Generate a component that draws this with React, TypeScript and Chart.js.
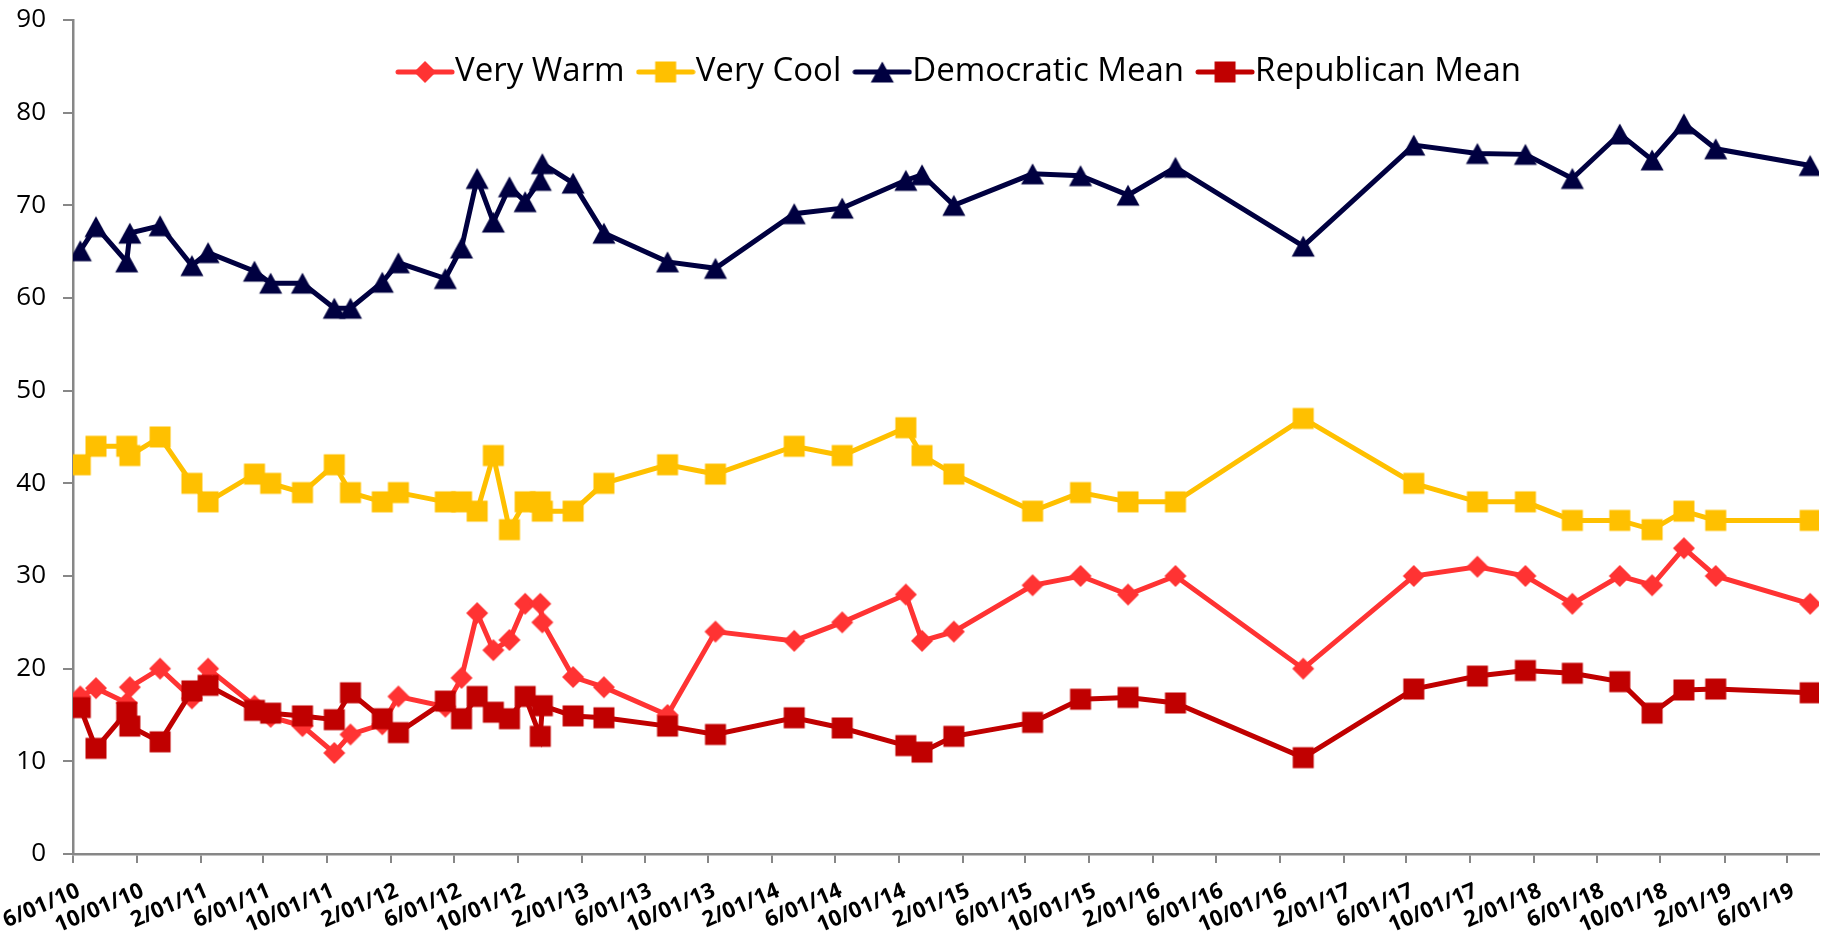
import React, { useEffect, useRef } from 'react';
import { Chart, registerables } from 'chart.js';

Chart.register(...registerables);

// Survey dates (two surveys fall in Sep 2010 and in Nov 2012)
const surveyDates = [
  '2010-06-15', '2010-07-15', '2010-09-12', '2010-09-18', '2010-11-15',
  '2011-01-15', '2011-02-15', '2011-05-15', '2011-06-15', '2011-08-15',
  '2011-10-15', '2011-11-15', '2012-01-15', '2012-02-15', '2012-05-15',
  '2012-06-15', '2012-07-15', '2012-08-15', '2012-09-15', '2012-10-15',
  '2012-11-13', '2012-11-17', '2013-01-15', '2013-03-15', '2013-07-15',
  '2013-10-15', '2014-03-15', '2014-06-15', '2014-10-15', '2014-11-15',
  '2015-01-15', '2015-06-15', '2015-09-15', '2015-12-15', '2016-03-15',
  '2016-11-15', '2017-06-15', '2017-10-15', '2018-01-15', '2018-04-15',
  '2018-07-15', '2018-09-15', '2018-11-15', '2019-01-15', '2019-07-15',
];

const veryWarm = [
  17.0, 17.9, 16.3, 18.0, 20.0,
  16.8, 20.0, 16.0, 14.8, 13.8,
  10.9, 12.9, 14.0, 17.0, 15.9,
  19.0, 26.0, 22.0, 23.1, 27.0,
  27.0, 25.0, 19.1, 18.0, 15.0,
  24.0, 23.0, 25.0, 28.0, 23.0,
  24.0, 29.0, 30.0, 28.0, 30.0,
  20.0, 30.0, 31.0, 30.0, 27.0,
  30.0, 29.0, 33.0, 30.0, 27.0,
];

const veryCool = [
  42, 44, 44, 43, 45,
  40, 38, 41, 40, 39,
  42, 39, 38, 39, 38,
  38, 37, 43, 35, 38,
  38, 37, 37, 40, 42,
  41, 44, 43, 46, 43,
  41, 37, 39, 38, 38,
  47, 40, 38, 38, 36,
  36, 35, 37, 36, 36,
];

const democraticMean = [
  65.1, 67.7, 63.9, 67.0, 67.8,
  63.5, 64.9, 62.9, 61.6, 61.6,
  58.9, 58.9, 61.7, 63.8, 62.1,
  65.4, 72.9, 68.2, 72.0, 70.4,
  72.7, 74.5, 72.4, 67.0, 63.9,
  63.2, 69.1, 69.7, 72.7, 73.3,
  70.0, 73.4, 73.2, 71.1, 74.1,
  65.6, 76.5, 75.6, 75.5, 72.9,
  77.7, 74.9, 78.8, 76.1, 74.3,
];

const republicanMean = [
  15.8, 11.4, 15.3, 13.8, 12.1,
  17.6, 18.2, 15.5, 15.2, 14.9,
  14.5, 17.4, 14.6, 13.1, 16.5,
  14.6, 17.0, 15.3, 14.6, 17.0,
  12.7, 16.0, 14.9, 14.7, 13.8,
  12.9, 14.7, 13.6, 11.7, 11.0,
  12.7, 14.2, 16.7, 16.9, 16.3,
  10.4, 17.8, 19.2, 19.8, 19.5,
  18.6, 15.2, 17.7, 17.8, 17.4,
];

const xTickLabels = [
  '6/01/10', '10/01/10', '2/01/11', '6/01/11', '10/01/11', '2/01/12', '6/01/12',
  '10/01/12', '2/01/13', '6/01/13', '10/01/13', '2/01/14', '6/01/14', '10/01/14',
  '2/01/15', '6/01/15', '10/01/15', '2/01/16', '6/01/16', '10/01/16', '2/01/17',
  '6/01/17', '10/01/17', '2/01/18', '6/01/18', '10/01/18', '2/01/19', '6/01/19',
];
const xAxisStart = '2010-06-01';
const xAxisEnd = '2019-08-01';
const yTicks = [0, 10, 20, 30, 40, 50, 60, 70, 80, 90];

const seriesNames = ['Very Warm', 'Very Cool', 'Democratic Mean', 'Republican Mean'];
const seriesColors = ['#FF3333', '#FFC000', '#000040', '#C00000'];
const seriesMarkers = ['diamond', 'square', 'triangle', 'square'];

const isoDay = (s: string) => {
  const [y, m, d] = s.split('-').map(Number);
  return Date.UTC(y, m - 1, d) / 86400000;
};
const mdyDay = (s: string) => {
  const [m, d, y] = s.split('/').map(Number);
  return Date.UTC(2000 + y, m - 1, d) / 86400000;
};

const FONT = "'Open Sans', 'Liberation Sans', sans-serif";
const AXIS_GREY = '#878787';

function drawMarker(ctx: CanvasRenderingContext2D, kind: string, cx: number, cy: number, color: string) {
  ctx.fillStyle = color;
  ctx.beginPath();
  if (kind === 'triangle') {
    ctx.moveTo(cx, cy - 10.5);
    ctx.lineTo(cx + 11.5, cy + 10.5);
    ctx.lineTo(cx - 11.5, cy + 10.5);
  } else if (kind === 'square') {
    ctx.rect(cx - 10.5, cy - 10.5, 21, 21);
  } else {
    ctx.moveTo(cx, cy - 11);
    ctx.lineTo(cx + 11, cy);
    ctx.lineTo(cx, cy + 11);
    ctx.lineTo(cx - 11, cy);
  }
  ctx.closePath();
  ctx.fill();
}

function makeMarker(kind: string, color: string) {
  const c = document.createElement('canvas');
  c.width = 26;
  c.height = 26;
  const ctx = c.getContext('2d')!;
  drawMarker(ctx, kind, 13, 13, color);
  return c;
}

function makeLegendIcon(kind: string, color: string) {
  const c = document.createElement('canvas');
  c.width = 60;
  c.height = 26;
  const ctx = c.getContext('2d')!;
  ctx.strokeStyle = color;
  ctx.lineWidth = 5;
  ctx.lineCap = 'round';
  ctx.beginPath();
  ctx.moveTo(3, 13);
  ctx.lineTo(57, 13);
  ctx.stroke();
  drawMarker(ctx, kind, 30, 13, color);
  return c;
}

export default function App() {
  const canvasRef = useRef<HTMLCanvasElement | null>(null);

  useEffect(() => {
    const canvas = canvasRef.current;
    if (!canvas) return;

    const xs = surveyDates.map(isoDay);
    const seriesValues = [veryWarm, veryCool, democraticMean, republicanMean];
    const tickValues = xTickLabels.map(mdyDay);
    const labelByValue = new Map<number, string>();
    tickValues.forEach((v, i) => labelByValue.set(v, xTickLabels[i]));
    const legendIcons = seriesNames.map((_, i) => makeLegendIcon(seriesMarkers[i], seriesColors[i]));

    const datasets = seriesNames.map((name, i) => ({
      label: name,
      data: seriesValues[i].map((v, j) => ({ x: xs[j], y: v })),
      borderColor: seriesColors[i],
      backgroundColor: seriesColors[i],
      borderWidth: 5,
      pointStyle: makeMarker(seriesMarkers[i], seriesColors[i]),
      pointRadius: 10,
      pointHoverRadius: 10,
      tension: 0,
      order: 4 - i,
    }));

    // Legend drawn inside the plot area: line-with-marker icon followed by the series name
    const inlineLegend = {
      id: 'inlineLegend',
      afterDraw(ch: any) {
        const ctx: CanvasRenderingContext2D = ch.ctx;
        const area = ch.chartArea;
        ctx.save();
        ctx.font = `33px ${FONT}`;
        ctx.textBaseline = 'middle';
        ctx.textAlign = 'left';
        ctx.fillStyle = '#000000';
        const iconW = 59;
        const textGap = 1;
        const itemGap = 11;
        const widths = seriesNames.map((n) => iconW + textGap + ctx.measureText(n).width);
        const total = widths.reduce((a, b) => a + b, 0) + itemGap * (seriesNames.length - 1);
        let x = (area.left + area.right) / 2 + 12 - total / 2;
        const y = area.top + 52;
        seriesNames.forEach((n, i) => {
          ctx.drawImage(legendIcons[i], x, y - 13);
          ctx.fillText(n, x + iconW + textGap, y);
          x += widths[i] + itemGap;
        });
        ctx.restore();
      },
    };

    const chart = new Chart(canvas, {
      type: 'line',
      data: { datasets },
      plugins: [inlineLegend],
      options: {
        animation: false,
        responsive: false,
        maintainAspectRatio: false,
        events: [],
        layout: { padding: { left: 0, right: 2, top: 20, bottom: 0 } },
        plugins: {
          tooltip: { enabled: false },
          legend: { display: false },
        },
        scales: {
          x: {
            type: 'linear',
            min: isoDay(xAxisStart),
            max: isoDay(xAxisEnd),
            afterBuildTicks: (scale: any) => {
              scale.ticks = tickValues.map((v) => ({ value: v }));
            },
            afterFit: (scale: any) => {
              scale.height = 86;
              scale.paddingLeft = 0;
              scale.paddingRight = 0;
            },
            ticks: {
              autoSkip: false,
              minRotation: 23,
              maxRotation: 23,
              padding: 15,
              labelOffset: 6,
              color: '#000000',
              font: { family: FONT, size: 22, weight: 'bold' },
              callback: (v: any) => labelByValue.get(Number(v)) ?? '',
            },
            grid: {
              display: true,
              drawOnChartArea: false,
              drawTicks: true,
              tickLength: 9,
              color: AXIS_GREY,
              lineWidth: 2,
            },
            border: { display: true, color: AXIS_GREY, width: 2.5 },
          },
          y: {
            min: 0,
            max: 90,
            afterBuildTicks: (scale: any) => {
              scale.ticks = yTicks.map((v) => ({ value: v }));
            },
            afterFit: (scale: any) => {
              scale.width = 73;
              scale.paddingTop = 0;
              scale.paddingBottom = 0;
            },
            ticks: {
              padding: 17,
              color: '#000000',
              font: { family: FONT, size: 26 },
            },
            grid: {
              display: true,
              drawOnChartArea: false,
              drawTicks: true,
              tickLength: 10,
              color: AXIS_GREY,
              lineWidth: 2,
            },
            border: { display: true, color: AXIS_GREY, width: 2.5 },
          },
        },
      } as any,
    });

    return () => chart.destroy();
  }, []);

  return (
    <div style={{ position: 'absolute', left: 0, top: 0, width: 1834, height: 940, background: '#ffffff' }}>
      <canvas ref={canvasRef} width={1834} height={940} style={{ display: 'block', width: 1834, height: 940 }} />
    </div>
  );
}
